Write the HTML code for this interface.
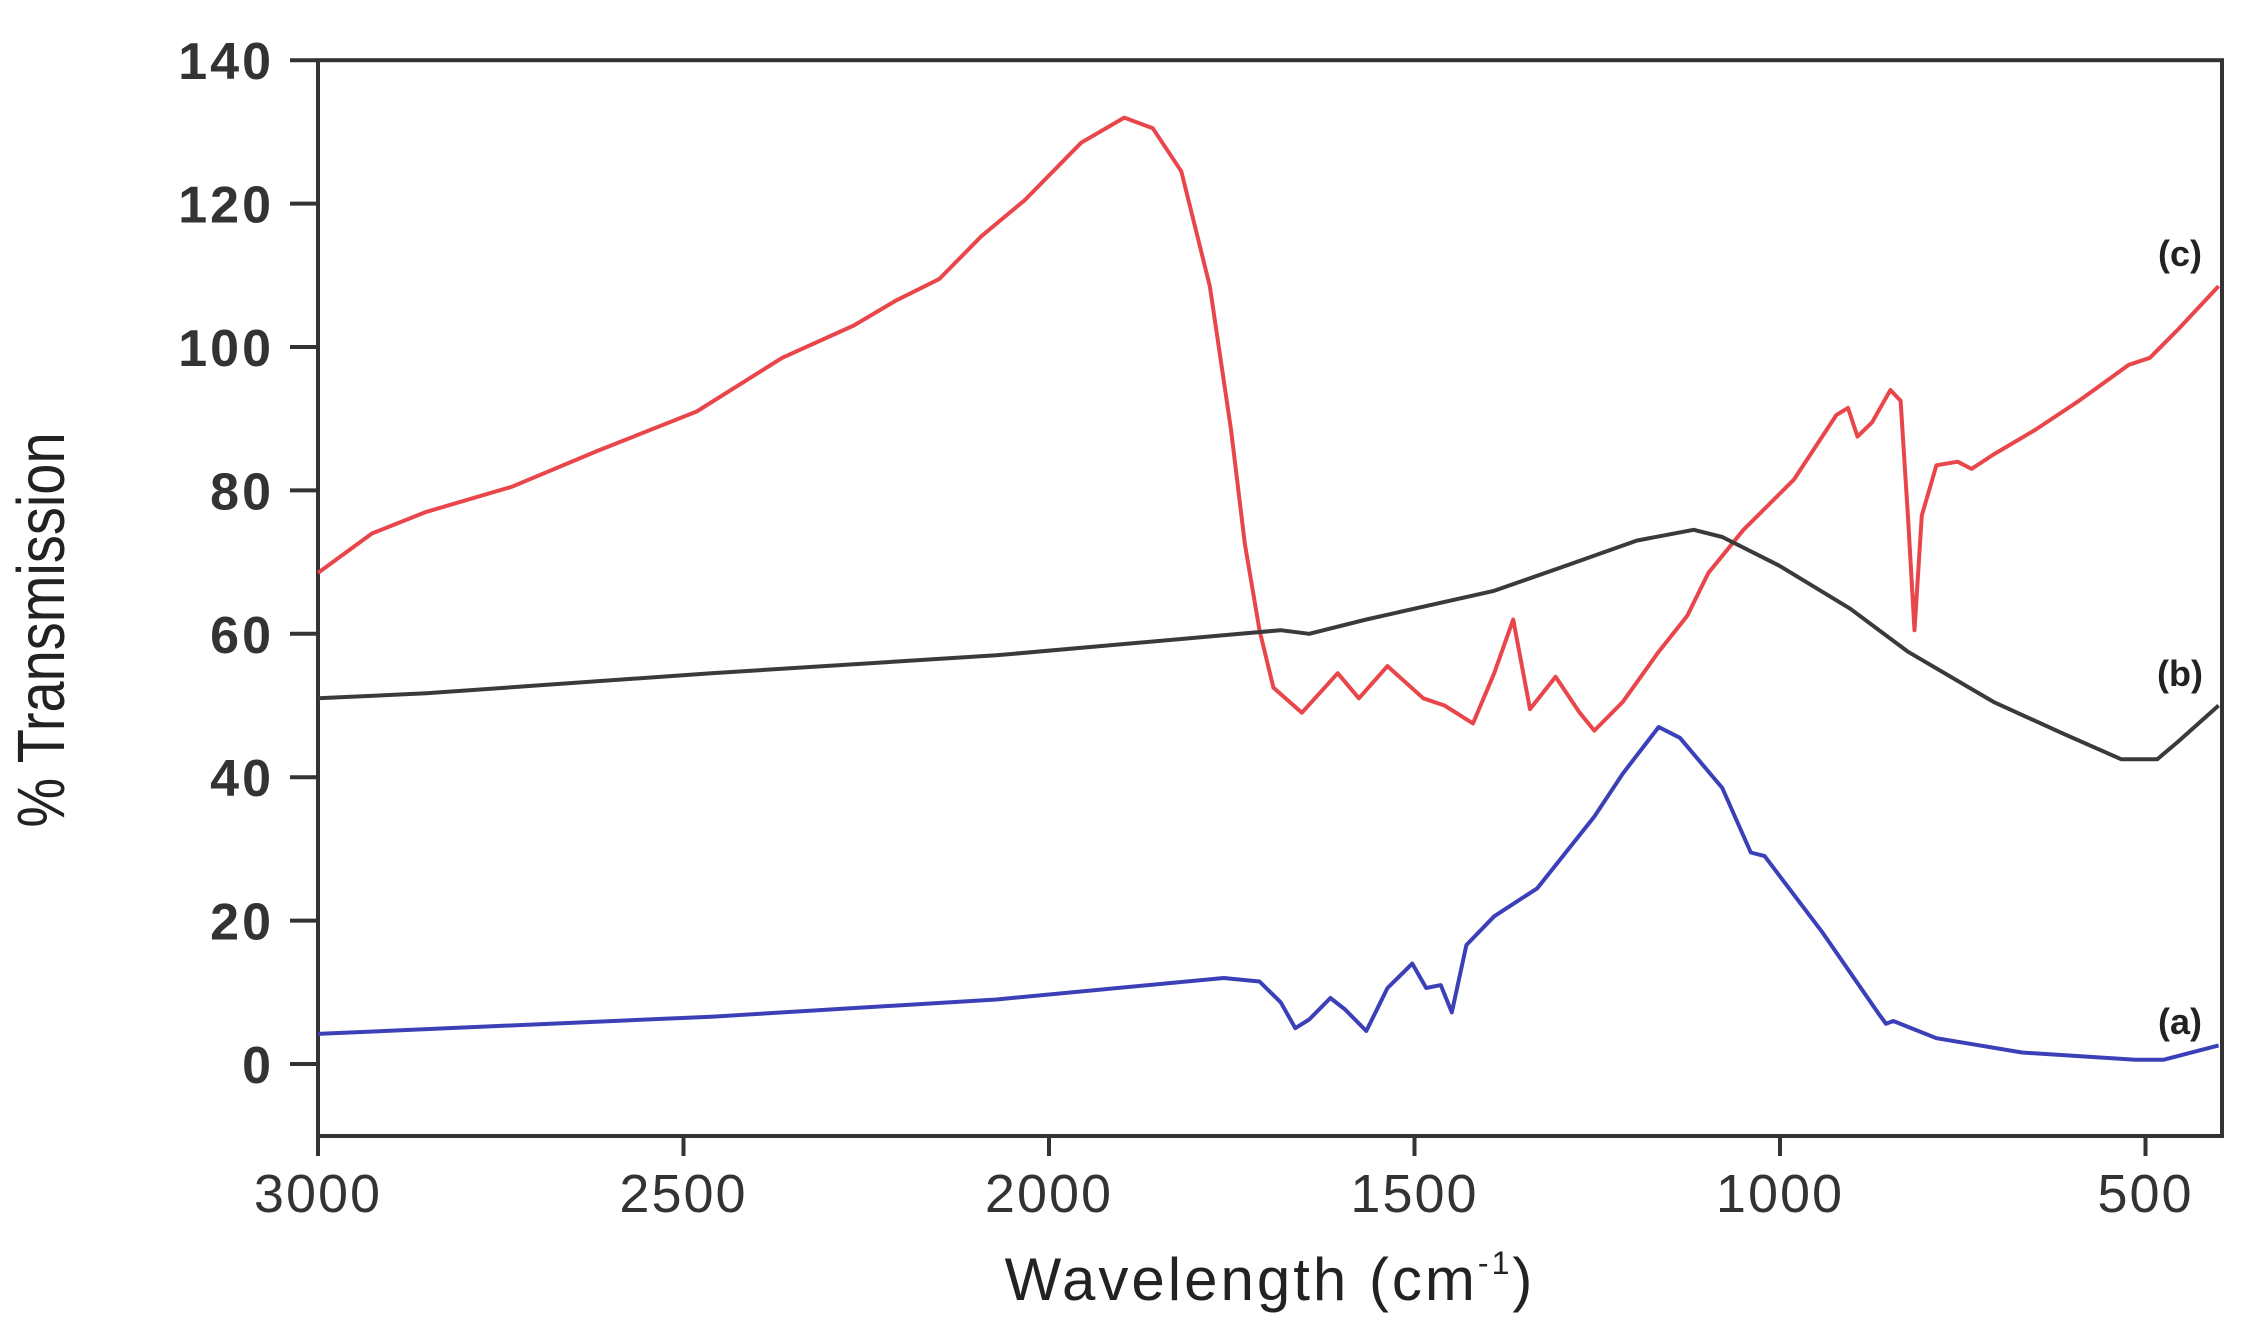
<!DOCTYPE html>
<html><head><meta charset="utf-8"><style>
html,body{margin:0;padding:0;background:#fff;}
svg{display:block;font-family:"Liberation Sans",Arial,sans-serif;}
</style></head><body>
<svg id="chart" width="2243" height="1337" viewBox="0 0 2243 1337" xmlns="http://www.w3.org/2000/svg">
<g id="axes"></g><g id="series"></g>
<text x="1270" y="1300" font-size="60" letter-spacing="3" text-anchor="middle" fill="#222">Wavelength (cm<tspan dy="-26" font-size="32">-1</tspan><tspan dy="26">)</tspan></text>
<text transform="translate(64,630) rotate(-90) scale(1.0,1.2)" font-size="56" text-anchor="middle" fill="#222">% Transmission</text>
<text x="2180" y="266" font-size="36" font-weight="bold" text-anchor="middle" fill="#222">(c)</text>
<text x="2180" y="686" font-size="36" font-weight="bold" text-anchor="middle" fill="#222">(b)</text>
<text x="2180" y="1034" font-size="36" font-weight="bold" text-anchor="middle" fill="#222">(a)</text>
</svg>
<script>
const xTicks=[3000,2500,2000,1500,1000,500];
const yTicks=[0,20,40,60,80,100,120,140];
const wnC=[3000,2926,2852,2735,2618,2482,2365,2267,2209,2150,2092,2033,1956,1897,1858,1819,1780,1751,1732,1712,1693,1654,1605,1576,1537,1488,1459,1420,1391,1365,1342,1307,1274,1254,1215,1166,1127,1098,1050,981,923,907,894,874,849,835,825,816,806,786,757,738,708,650,591,523,494,455,400];
const valC=[68.5,74,77,80.5,85.5,91,98.5,103,106.5,109.5,115.5,120.5,128.5,132,130.5,124.5,108.5,88.5,72.5,60.5,52.5,49,54.5,51,55.5,51,50,47.5,54.5,62,49.5,54,49,46.5,50.5,57.5,62.5,68.5,74.5,81.5,90.5,91.5,87.5,89.5,94,92.5,76.5,60.5,76.5,83.5,84,83,85,88.5,92.5,97.5,98.5,102.5,108.5];
const wnB=[3000,2852,2462,2072,1683,1644,1566,1391,1293,1196,1118,1079,1001,904,825,708,611,533,484,455,400];
const valB=[51,51.7,54.5,57,60.5,60,62,66,69.5,73,74.5,73.5,69.5,63.5,57.5,50.5,46,42.5,42.5,45,50];
const wnA=[3000,2462,2072,1761,1712,1683,1663,1644,1615,1595,1566,1537,1503,1484,1464,1449,1429,1391,1332,1254,1215,1166,1137,1079,1040,1021,943,865,855,845,786,669,514,475,400];
const valA=[4.2,6.6,9,12,11.5,8.6,5,6.2,9.2,7.6,4.6,10.6,14,10.6,11,7.2,16.6,20.6,24.5,34.5,40.5,47,45.5,38.5,29.5,29,18.5,7,5.6,6,3.6,1.6,0.6,0.6,2.6];
const NS="http://www.w3.org/2000/svg";
const X0=318,PX=365.5/500,Y0=1064,PY=143.4/20;
const sx=w=>X0+(3000-w)*PX;
const sy=v=>Y0-v*PY;
const axes=document.getElementById('axes'),ser=document.getElementById('series');
function mk(tag,attrs,parent){const e=document.createElementNS(NS,tag);for(const k in attrs)e.setAttribute(k,attrs[k]);parent.appendChild(e);return e;}
const frame=mk('rect',{x:X0,y:sy(140),width:2222-X0,height:1136-sy(140),fill:'none',stroke:'#333','stroke-width':4},axes);


xTicks.forEach(t=>{
 const l=mk('line',{x1:sx(t),x2:sx(t),y1:1136,y2:1156,stroke:'#333','stroke-width':4},axes);
 
 
 const tx=mk('text',{x:sx(t),y:1212,'font-size':54,'letter-spacing':2,'text-anchor':'middle',fill:'#333'},axes);
 tx.textContent=t;
 
 
});
yTicks.forEach(t=>{
 const l=mk('line',{x1:X0-28,x2:X0,y1:sy(t),y2:sy(t),stroke:'#333','stroke-width':4},axes);
 
 
 const tx=mk('text',{x:X0-44,y:sy(t)+19,'font-size':52,'letter-spacing':3,'font-weight':'bold','text-anchor':'end',fill:'#333'},axes);
 tx.textContent=t;
 
 
});
function line(wn,val,color,name){
 const d=wn.map((w,i)=>(i?'L':'M')+sx(w).toFixed(1)+' '+sy(val[i]).toFixed(1)).join(' ');
 const p=mk('path',{d:d,fill:'none',stroke:color,'stroke-width':4,'stroke-linejoin':'round'},ser);
 
 
}
line(wnC,valC,'#e8464a','series-c');
line(wnB,valB,'#3a3a3a','series-b');
line(wnA,valA,'#3b3fb8','series-a');
</script>
</body></html>
